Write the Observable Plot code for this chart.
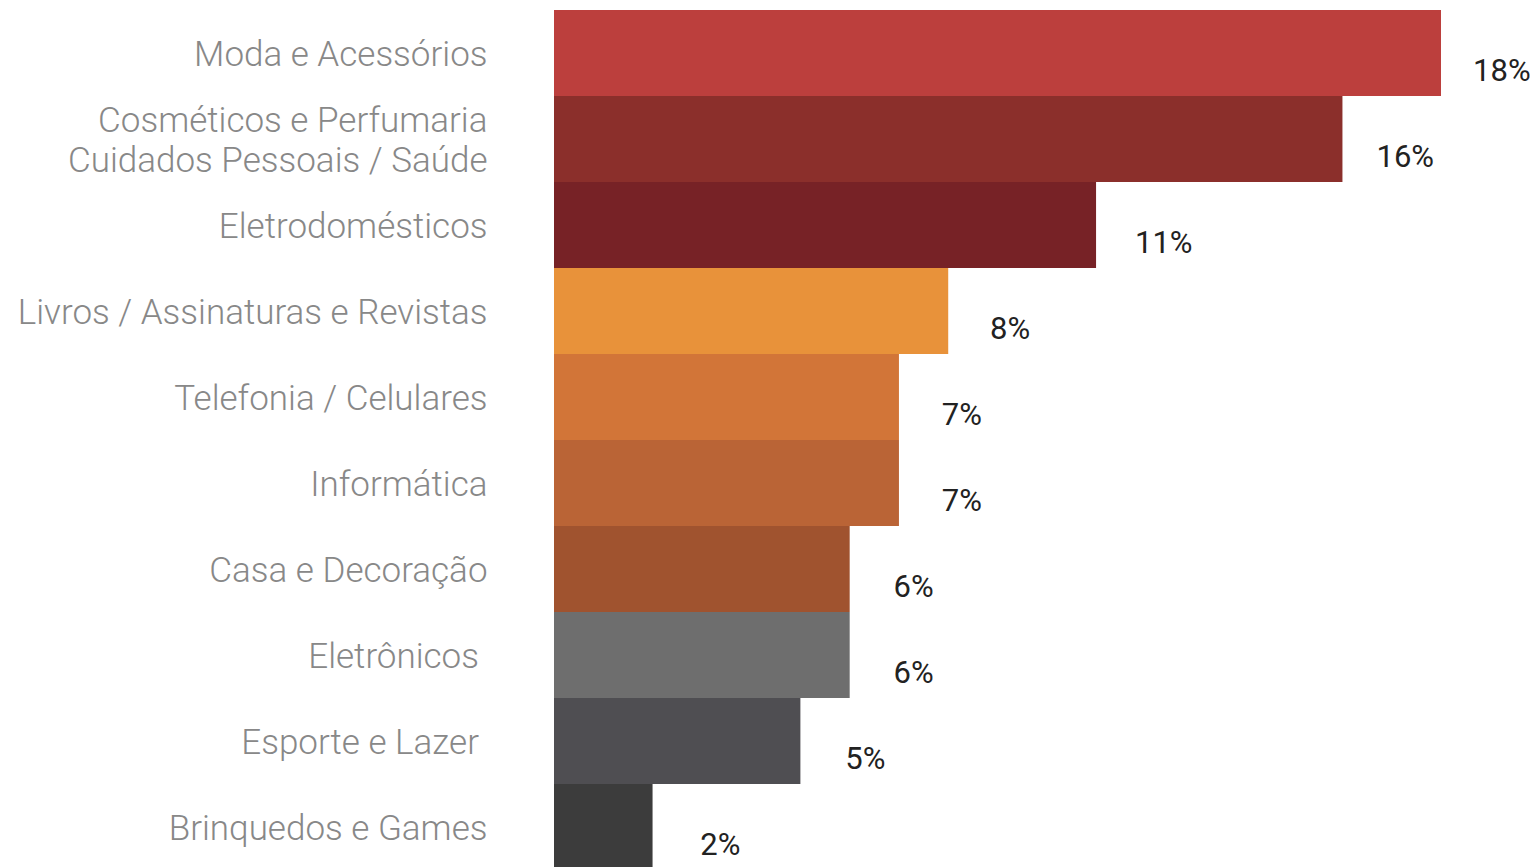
<!DOCTYPE html>
<html>
<head>
<meta charset="utf-8">
<script src="https://cdn.jsdelivr.net/npm/d3@7"></script>
<script src="https://cdn.jsdelivr.net/npm/@observablehq/plot@0.6"></script>
<style>
  html, body { margin: 0; padding: 0; background: #fff; overflow: hidden; }
  #chart svg { display: block; }
</style>
</head>
<body>
<div id="chart"></div>
<script>
const categories = [
  "Moda e Acessórios",
  "Cosméticos e Perfumaria\nCuidados Pessoais / Saúde",
  "Eletrodomésticos",
  "Livros / Assinaturas e Revistas",
  "Telefonia / Celulares",
  "Informática",
  "Casa e Decoração",
  "Eletrônicos\u00A0",
  "Esporte e Lazer\u00A0",
  "Brinquedos e Games"
];
const values = [18, 16, 11, 8, 7, 7, 6, 6, 5, 2];
const valueLabels = ["18%", "16%", "11%", "8%", "7%", "7%", "6%", "6%", "5%", "2%"];
const colors = ["#bc3f3d", "#8b2f2b", "#772226", "#e8923a", "#d27538", "#ba6436", "#a0532f", "#6e6e6e", "#4f4e52", "#3c3c3c"];

const data = categories.map((c, i) => ({category: c, value: values[i], label: valueLabels[i], color: colors[i]}));

const chart = Plot.plot({
  width: 1530,
  height: 870,
  marginLeft: 554,
  marginRight: 89,
  marginTop: 10,
  marginBottom: 0,
  x: {domain: [0, 18], axis: null},
  y: {domain: categories, padding: 0, axis: null},
  style: {fontFamily: "Roboto, sans-serif", background: "#fff"},
  marks: [
    Plot.barX(data, {y: "category", x: "value", fill: "color"}),
    Plot.text(data, {
      y: "category", x: 0, text: "category",
      textAnchor: "end", dx: -67, lineAnchor: "middle",
      fontSize: 35, fontWeight: 300, fill: "#888", lineHeight: 1.12
    }),
    Plot.text(data, {
      y: "category", x: d => d.value * 0.98 + 1, text: "label",
      textAnchor: "start", dy: 18, lineAnchor: "middle",
      fontSize: 31, fill: "#222"
    })
  ]
});
document.getElementById("chart").appendChild(chart);
</script>
</body>
</html>
